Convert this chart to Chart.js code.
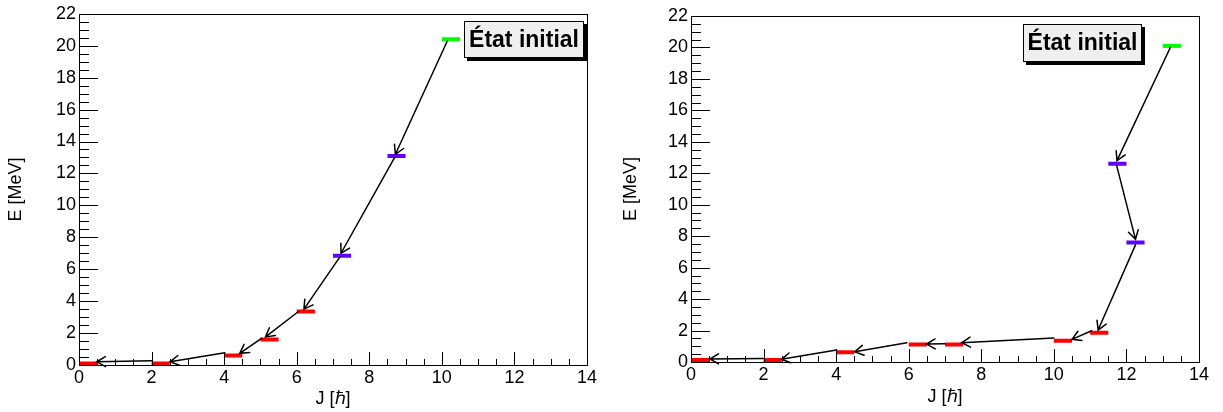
<!DOCTYPE html>
<html><head><meta charset="utf-8">
<script src="https://cdn.jsdelivr.net/npm/chart.js@4.4.1/dist/chart.umd.min.js"></script>
<style>
html,body{margin:0;padding:0;background:#fff;}
#wrap{position:relative;width:1223px;height:412px;}
.pane{position:absolute;top:0;height:412px;}
</style></head><body>
<div id="wrap">
<div class="pane" style="left:0;width:611px"><canvas id="c1"></canvas></div>
<div class="pane" style="left:611px;width:612px"><canvas id="c2"></canvas></div>
</div>
<script>
// ---------- DATA ----------
const xTicks = [0,2,4,6,8,10,12,14];
const yTicks = [0,2,4,6,8,10,12,14,16,18,20,22];
const legendLabel = 'État initial';
const xTitle = 'J [ℏ]';
const yTitle = 'E [MeV]';
const levelWidth = 0.5;

// Left panel levels (J start, E)
const leftRedJ = [0, 2, 4, 5, 6];
const leftRedE = [0.1, 0.1, 0.6, 1.6, 3.35];
const leftVioletJ = [7, 8.5];
const leftVioletE = [6.85, 13.1];
const leftGreenJ = [10];
const leftGreenE = [20.4];
// Left panel arrows (from -> to)
const leftArrowJ1 = [10.15, 8.7, 7.2, 6.05, 5.03, 4.02, 2.0];
const leftArrowE1 = [20.3, 13.0, 6.8, 3.35, 1.67, 0.77, 0.27];
const leftArrowJ2 = [8.72, 7.22, 6.2, 5.14, 4.43, 2.51, 0.49];
const leftArrowE2 = [13.2, 7.0, 3.5, 1.76, 0.73, 0.2, 0.2];

// Right panel levels
const rightRedJ = [0, 2, 4, 6, 7, 10, 11];
const rightRedE = [0.13, 0.13, 0.62, 1.12, 1.12, 1.35, 1.86];
const rightVioletJ = [11.5, 12];
const rightVioletE = [12.6, 7.6];
const rightGreenJ = [13];
const rightGreenE = [20.1];
// Right panel arrows
const rightArrowJ1 = [13.21, 11.73, 12.25, 11.04, 10.0, 7.0, 5.95, 4.01, 1.99];
const rightArrowE1 = [20.0, 12.5, 7.45, 1.99, 1.53, 1.16, 1.23, 0.76, 0.23];
const rightArrowJ2 = [11.74, 12.25, 11.22, 10.5, 7.46, 6.49, 4.51, 2.49, 0.52];
const rightArrowE2 = [12.8, 7.8, 2.03, 1.44, 1.23, 1.14, 0.65, 0.17, 0.19];

// legend box corners in data units
const leftLegendBox = {j1: 10.61, e1: 21.54, j2: 13.91, e2: 19.21};
const rightLegendBox = {j1: 9.15, e1: 21.47, j2: 12.43, e2: 19.07};

// ---------- BUILD ----------
const FONT = "'Liberation Sans', Arial, Helvetica, sans-serif";
function levels(J, E) {
  const pts = [];
  J.forEach((j, i) => {
    pts.push({x: j, y: E[i]});
    pts.push({x: j + levelWidth, y: E[i]});
    pts.push({x: j + levelWidth, y: null});
  });
  return pts;
}
function levelDs(J, E, color) {
  return {data: levels(J, E), showLine: true, borderColor: color, backgroundColor: color,
    borderWidth: 4, pointRadius: 0, spanGaps: false, borderCapStyle: 'butt'};
}

const framePlugin = {
  id: 'frame',
  afterDraw(chart, args, opts) {
    const {ctx, chartArea: a, scales: {x, y}} = chart;
    ctx.save();
    // ticks
    ctx.strokeStyle = '#000';
    ctx.lineWidth = 1;
    ctx.beginPath();
    for (let v = 0; v <= 14.001; v += 0.5) {
      const px = Math.round(x.getPixelForValue(v)) + 0.5;
      const len = (Math.abs(v % 2) < 1e-6) ? 13 : 6;
      ctx.moveTo(px, a.bottom); ctx.lineTo(px, a.bottom - len);
    }
    for (let v = 0; v <= 22.001; v += 0.5) {
      const py = Math.round(y.getPixelForValue(v)) + 0.5;
      const len = (Math.abs(v % 2) < 1e-6) ? 19 : 10;
      ctx.moveTo(a.left, py); ctx.lineTo(a.left + len, py);
    }
    ctx.stroke();
    // frame
    ctx.strokeStyle = '#000';
    ctx.lineWidth = 1;
    ctx.strokeRect(Math.round(a.left) + 0.5, Math.round(a.top) + 0.5,
      Math.round(a.right - a.left), Math.round(a.bottom - a.top));

    // arrows
    const ar = opts.arrows;
    ctx.strokeStyle = '#000';
    ctx.lineWidth = 1.5;
    ctx.lineCap = 'round';
    for (let i = 0; i < ar.j1.length; i++) {
      const x1 = x.getPixelForValue(ar.j1[i]), y1 = y.getPixelForValue(ar.e1[i]);
      const x2 = x.getPixelForValue(ar.j2[i]), y2 = y.getPixelForValue(ar.e2[i]);
      ctx.beginPath();
      ctx.moveTo(x1, y1); ctx.lineTo(x2, y2);
      const ang = Math.atan2(y2 - y1, x2 - x1);
      const hl = 10, ha = Math.PI / 6;
      ctx.moveTo(x2 - hl * Math.cos(ang - ha), y2 - hl * Math.sin(ang - ha));
      ctx.lineTo(x2, y2);
      ctx.lineTo(x2 - hl * Math.cos(ang + ha), y2 - hl * Math.sin(ang + ha));
      ctx.stroke();
    }
    // legend box
    const b = opts.box;
    const bx1 = Math.round(x.getPixelForValue(b.j1)), bx2 = Math.round(x.getPixelForValue(b.j2));
    const by1 = Math.round(y.getPixelForValue(b.e1)), by2 = Math.round(y.getPixelForValue(b.e2));
    ctx.fillStyle = '#000';
    ctx.fillRect(bx1 + 3, by1 + 3, bx2 - bx1, by2 - by1);
    ctx.fillStyle = '#efefef';
    ctx.fillRect(bx1, by1, bx2 - bx1, by2 - by1);
    ctx.lineWidth = 1;
    ctx.strokeStyle = '#000';
    ctx.strokeRect(bx1 + 0.5, by1 + 0.5, bx2 - bx1 - 1, by2 - by1 - 1);
    ctx.fillStyle = '#000';
    ctx.font = "bold 23px " + FONT;
    ctx.textAlign = 'center';
    ctx.textBaseline = 'middle';
    ctx.fillText(legendLabel, (bx1 + bx2) / 2, (by1 + by2) / 2 + 1);
    ctx.restore();
  }
};

function makeChart(id, cfg) {
  return new Chart(document.getElementById(id), {
    type: 'scatter',
    data: {datasets: [
      levelDs(cfg.redJ, cfg.redE, '#ff0000'),
      levelDs(cfg.violetJ, cfg.violetE, '#6000ff'),
      levelDs(cfg.greenJ, cfg.greenE, '#00ff00')
    ]},
    options: {
      responsive: true, maintainAspectRatio: false, animation: false,
      layout: {padding: {top: cfg.padTop, right: cfg.padRight, left: 0, bottom: 0}},
      plugins: {legend: {display: false}, tooltip: {enabled: false},
        frame: {arrows: cfg.arrows, box: cfg.box}},
      scales: {
        x: {type: 'linear', min: 0, max: 14,
          afterBuildTicks: s => { s.ticks = xTicks.map(v => ({value: v})); },
          afterFit: s => { s.height = cfg.xH; },
          grid: {display: false, drawTicks: false},
          border: {display: false},
          ticks: {color: '#000', font: {family: FONT, size: 18}, padding: 2, maxRotation: 0, autoSkip: false},
          title: {display: true, text: xTitle, color: '#000', font: {family: FONT, size: 18},
            padding: {top: 0, bottom: cfg.xTitlePad}}
        },
        y: {type: 'linear', min: 0, max: 22,
          afterBuildTicks: s => { s.ticks = yTicks.map(v => ({value: v})); },
          afterFit: s => { s.width = cfg.yW; },
          grid: {display: false, drawTicks: false},
          border: {display: false},
          ticks: {color: '#000', font: {family: FONT, size: 18}, padding: 3, autoSkip: false},
          title: {display: true, text: yTitle, color: '#000', font: {family: FONT, size: 18},
            padding: {top: cfg.yTitlePad, bottom: 0}}
        }
      }
    },
    plugins: [framePlugin]
  });
}

makeChart('c1', {
  redJ: leftRedJ, redE: leftRedE, violetJ: leftVioletJ, violetE: leftVioletE,
  greenJ: leftGreenJ, greenE: leftGreenE,
  arrows: {j1: leftArrowJ1, e1: leftArrowE1, j2: leftArrowJ2, e2: leftArrowE2},
  box: leftLegendBox,
  padTop: 12, padRight: 24, yW: 79, xH: 47, xTitlePad: 2, yTitlePad: 5
});
makeChart('c2', {
  redJ: rightRedJ, redE: rightRedE, violetJ: rightVioletJ, violetE: rightVioletE,
  greenJ: rightGreenJ, greenE: rightGreenE,
  arrows: {j1: rightArrowJ1, e1: rightArrowE1, j2: rightArrowJ2, e2: rightArrowE2},
  box: rightLegendBox,
  padTop: 16, padRight: 24, yW: 80, xH: 50, xTitlePad: 4, yTitlePad: 9
});
</script>
</body></html>
